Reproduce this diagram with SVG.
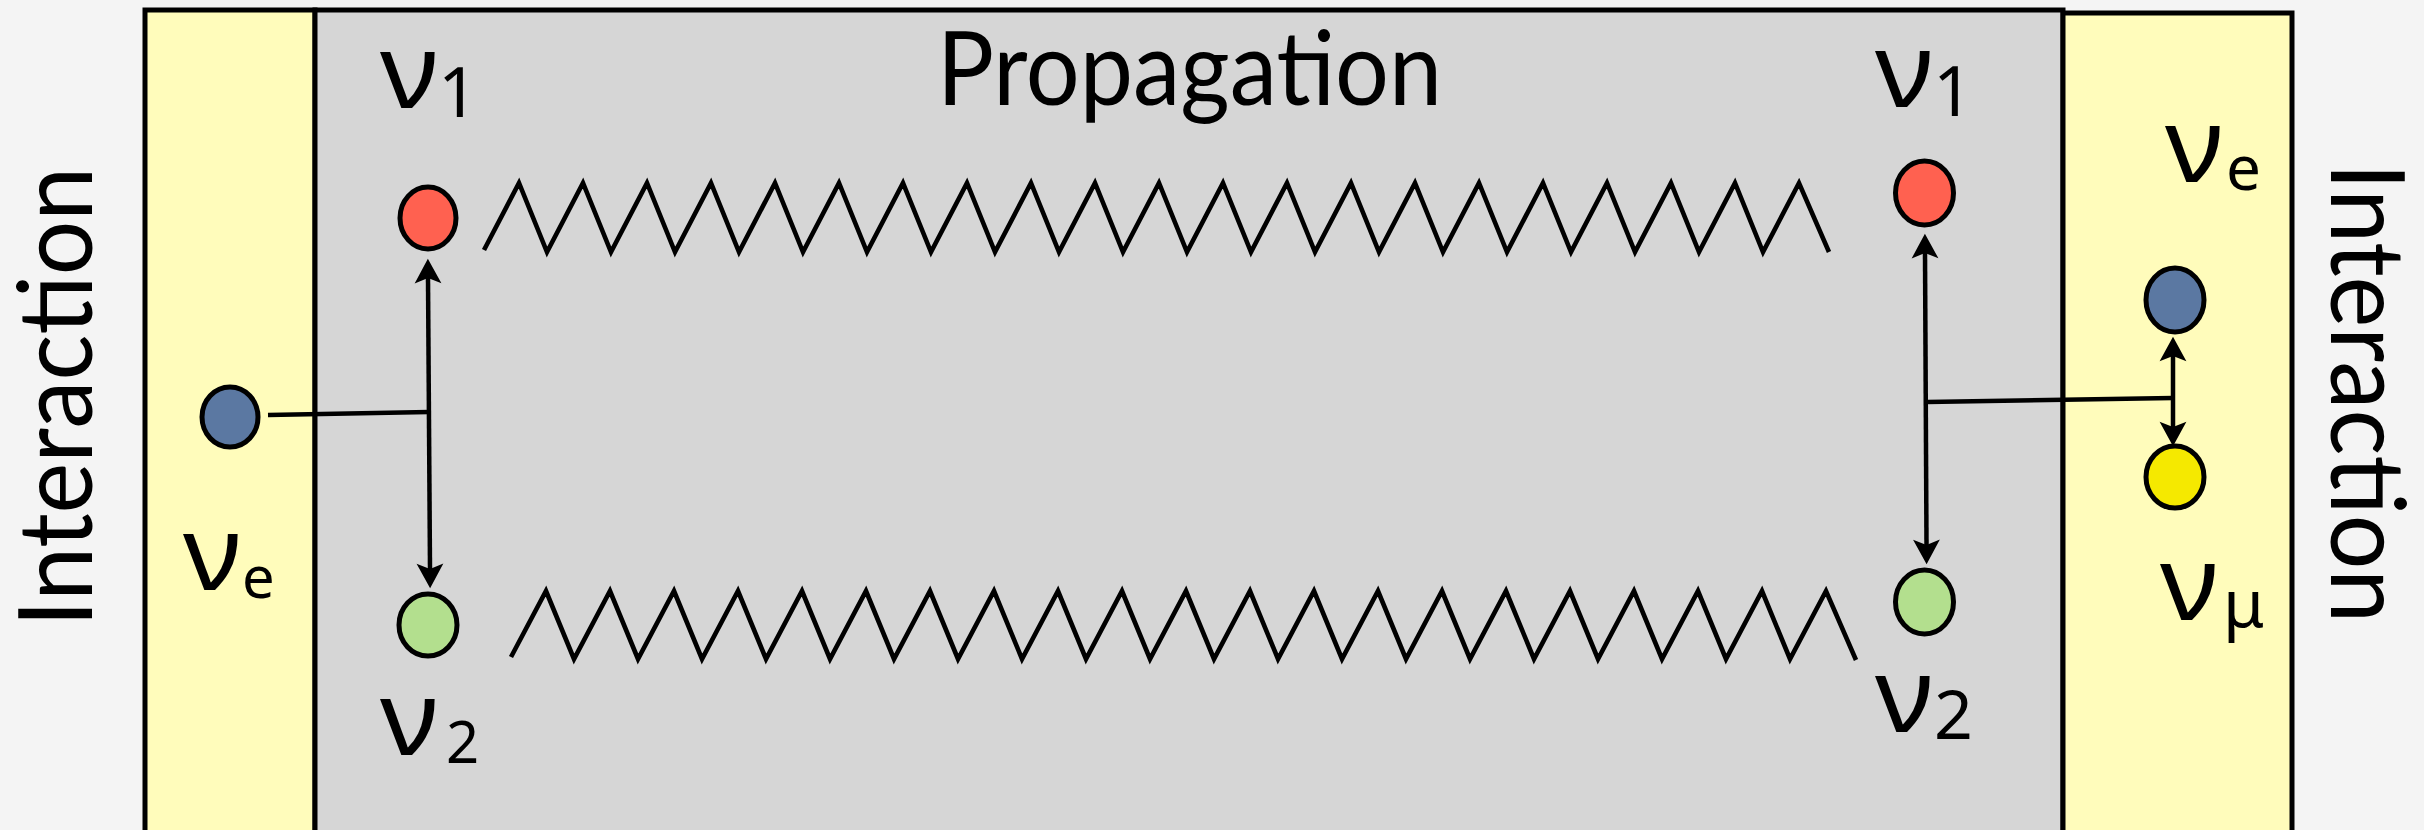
<svg xmlns="http://www.w3.org/2000/svg" width="2424" height="830" viewBox="0 0 2424 830">
<defs>
<style>
.panel{stroke:#000;stroke-width:5}
.yel{fill:#FFFCBB}
.grey{fill:#D6D6D6}
.dot{stroke:#000;stroke-width:5}
.lbl{font-family:"Lato","Noto Sans",sans-serif;fill:#000}
.nu{font-family:"Noto Sans","DejaVu Sans",sans-serif;fill:#000}
.wire{fill:none;stroke:#000;stroke-width:4.5}
.zig{fill:none;stroke:#000;stroke-width:4.6;stroke-linejoin:miter}
</style>
<marker id="ah" markerUnits="userSpaceOnUse" markerWidth="30" markerHeight="30" refX="0" refY="0" viewBox="-6 -14 26 28" orient="auto-start-reverse" overflow="visible">
<path d="M18,0 L-5,-12.5 L0,0 L-5,12.5 Z" fill="#000"/>
</marker>
</defs>
<rect x="0" y="0" width="2424" height="830" fill="#F4F4F4"/>

<g id="panel-left">
<rect class="panel yel" x="145" y="10" width="170" height="830"/>
</g>
<g id="panel-propagation">
<rect class="panel grey" x="315" y="10" width="1748" height="830"/>
<text class="lbl" x="937" y="105" font-size="102" textLength="505" lengthAdjust="spacingAndGlyphs">Propagation</text>
</g>
<g id="panel-right">
<rect class="panel yel" x="2063" y="13" width="229" height="830"/>
</g>

<g id="label-interaction-left">
<text class="lbl" transform="translate(92,627) rotate(-90)" font-size="103" textLength="460" lengthAdjust="spacingAndGlyphs">Interaction</text>
</g>
<g id="label-interaction-right">
<text class="lbl" transform="translate(2331,163) rotate(90)" font-size="103" textLength="460" lengthAdjust="spacingAndGlyphs">Interaction</text>
</g>

<g id="connectors">
<path class="zig" d="M484,250 L519,183 L547,252 L583,183 L611,252 L647,183 L675,252 L711,183 L739,252 L775,183 L803,252 L839,183 L867,252 L903,183 L931,252 L967,183 L995,252 L1031,183 L1059,252 L1095,183 L1123,252 L1159,183 L1187,252 L1223,183 L1251,252 L1287,183 L1315,252 L1351,183 L1379,252 L1415,183 L1443,252 L1479,183 L1507,252 L1543,183 L1571,252 L1607,183 L1635,252 L1671,183 L1699,252 L1735,183 L1763,252 L1799,183 L1829,252"/>
<path class="zig" d="M511,657 L546,591 L574,659 L610,591 L638,659 L674,591 L702,659 L738,591 L766,659 L802,591 L830,659 L866,591 L894,659 L930,591 L958,659 L994,591 L1022,659 L1058,591 L1086,659 L1122,591 L1150,659 L1186,591 L1214,659 L1250,591 L1278,659 L1314,591 L1342,659 L1378,591 L1406,659 L1442,591 L1470,659 L1506,591 L1534,659 L1570,591 L1598,659 L1634,591 L1662,659 L1698,591 L1726,659 L1762,591 L1790,659 L1826,591 L1856,660"/>
<path class="wire" d="M268,415 L429,412"/>
<path class="wire" d="M428,278 L430,569" marker-start="url(#ah)" marker-end="url(#ah)"/>
<path class="wire" d="M1927,402 L2173,398"/>
<path class="wire" d="M1925,253 L1926.5,545" marker-start="url(#ah)" marker-end="url(#ah)"/>
<path class="wire" d="M2173,356 L2173,427" marker-start="url(#ah)" marker-end="url(#ah)"/>
</g>

<g id="node-nue-left">
<ellipse class="dot" cx="230" cy="417" rx="28" ry="30" fill="#5B78A2"/>
<text class="nu" x="183" y="590" font-size="105" textLength="58" lengthAdjust="spacingAndGlyphs">ν</text>
<text class="nu" x="242" y="598" font-size="58">e</text>
</g>
<g id="node-nu1-left">
<ellipse class="dot" cx="428" cy="218" rx="28" ry="31" fill="#FF6150"/>
<text class="nu" x="380" y="108" font-size="105" textLength="58" lengthAdjust="spacingAndGlyphs">ν</text>
<text class="nu" x="438" y="117" font-size="70">1</text>
</g>
<g id="node-nu2-left">
<ellipse class="dot" cx="428" cy="625" rx="29" ry="31" fill="#B3DF8E"/>
<text class="nu" x="380" y="755" font-size="105" textLength="58" lengthAdjust="spacingAndGlyphs">ν</text>
<text class="nu" x="446" y="763" font-size="58">2</text>
</g>
<g id="node-nu1-right">
<ellipse class="dot" cx="1924.5" cy="193" rx="29" ry="32" fill="#FF6150"/>
<text class="nu" x="1875" y="107" font-size="105" textLength="58" lengthAdjust="spacingAndGlyphs">ν</text>
<text class="nu" x="1933" y="116" font-size="70">1</text>
</g>
<g id="node-nu2-right">
<ellipse class="dot" cx="1924.5" cy="602" rx="29" ry="32" fill="#B3DF8E"/>
<text class="nu" x="1875" y="732" font-size="105" textLength="58" lengthAdjust="spacingAndGlyphs">ν</text>
<text class="nu" x="1934" y="739" font-size="68">2</text>
</g>
<g id="node-nue-right">
<ellipse class="dot" cx="2175" cy="300" rx="29" ry="32" fill="#5B78A2"/>
<text class="nu" x="2165" y="182" font-size="105" textLength="58" lengthAdjust="spacingAndGlyphs">ν</text>
<text class="nu" x="2226" y="190" font-size="62">e</text>
</g>
<g id="node-numu-right">
<ellipse class="dot" cx="2175" cy="477" rx="29" ry="31" fill="#F5E900"/>
<text class="nu" x="2160" y="620" font-size="105" textLength="58" lengthAdjust="spacingAndGlyphs">ν</text>
<text class="nu" x="2223" y="627" font-size="66">μ</text>
</g>
</svg>
